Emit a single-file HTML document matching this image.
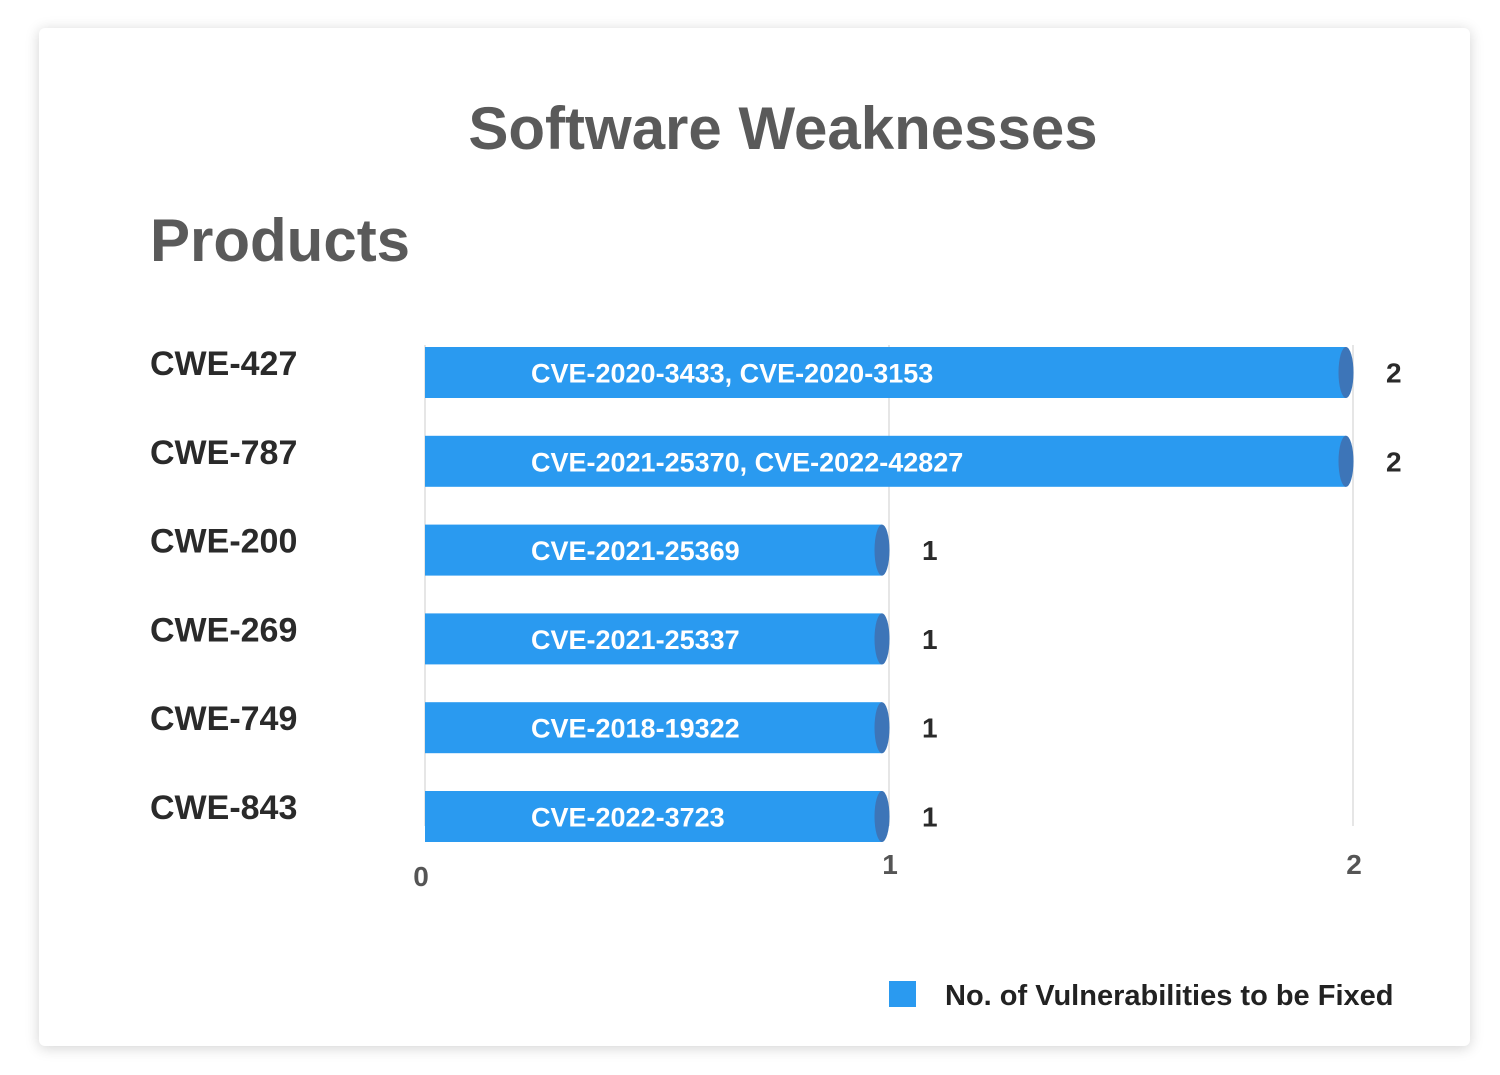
<!DOCTYPE html>
<html><head><meta charset="utf-8"><style>
body{margin:0;background:#fff;width:1500px;height:1075px;overflow:hidden;font-family:"Liberation Sans",sans-serif}
#card{position:absolute;left:39px;top:28px;width:1431px;height:1018px;background:#fff;border-radius:6px;box-shadow:0 2px 14px rgba(0,0,0,0.18)}
svg{position:absolute;left:0;top:0}
</style></head><body>
<div id="card"></div>
<svg id="chart" width="1500" height="1075">
<text x="783" y="149" text-anchor="middle" font-size="60" font-weight="bold" fill="#5a5a5a">Software Weaknesses</text>
<text x="150" y="261" font-size="60" font-weight="bold" fill="#5a5a5a">Products</text>
<g id="grid"></g><g id="bars"></g><g id="ticks"></g>
<rect x="889" y="981" width="27" height="26" fill="#2a9af0"/>
<text x="945" y="1005" font-size="29" font-weight="bold" fill="#222">No. of Vulnerabilities to be Fixed</text>
</svg>
<script>
const categories=["CWE-427","CWE-787","CWE-200","CWE-269","CWE-749","CWE-843"];
const values=[2,2,1,1,1,1];
const barLabels=["CVE-2020-3433, CVE-2020-3153","CVE-2021-25370, CVE-2022-42827","CVE-2021-25369","CVE-2021-25337","CVE-2018-19322","CVE-2022-3723"];
const tickValues=[0,1,2];
const NS="http://www.w3.org/2000/svg";
const x0=425,unit=464,yTop=347,step=88.8,bh=51;
const xs=v=>x0+v*unit;
const ys=i=>yTop+i*step;
function mk(t,a,p){const e=document.createElementNS(NS,t);for(const k in a)e.setAttribute(k,a[k]);p.appendChild(e);return e;}
const grid=document.getElementById('grid'),bars=document.getElementById('bars'),ticks=document.getElementById('ticks');
tickValues.forEach((t,i)=>{
 const l=mk('line',{x1:xs(t),x2:xs(t),y1:345,y2:826,stroke:'#dddddd','stroke-width':1.5},grid);
 
 
 const tx=mk('text',{x:xs(t)+(i===0?-4:1),y:i===0?886:874,'text-anchor':'middle','font-size':28,'font-weight':'bold',fill:'#555'},ticks);
 tx.textContent=t;
 
 
});
categories.forEach((c,i)=>{
 const y=ys(i),xe=xs(values[i]);
 const lab=mk('text',{x:150,y:y+28,'font-size':34,'font-weight':'bold',fill:'#2a2a2a'},bars);
 lab.textContent=c;
 
 
 const r=mk('rect',{x:x0,y:y,width:xe-x0-7,height:bh,fill:'#2a9af0'},bars);
 
 
 const el=mk('ellipse',{cx:xe-7,cy:y+bh/2,rx:7.5,ry:bh/2,fill:'#3d75b8'},bars);
 
 
 const bt=mk('text',{x:531,y:y+bh/2+10,'font-size':27,'font-weight':'bold',fill:'#fff'},bars);
 bt.textContent=barLabels[i];
 
 
 const vt=mk('text',{x:xe+33,y:y+bh/2+10,'font-size':28,'font-weight':'bold',fill:'#2a2a2a'},bars);
 vt.textContent=values[i];
 
 
});
</script>
</body></html>
